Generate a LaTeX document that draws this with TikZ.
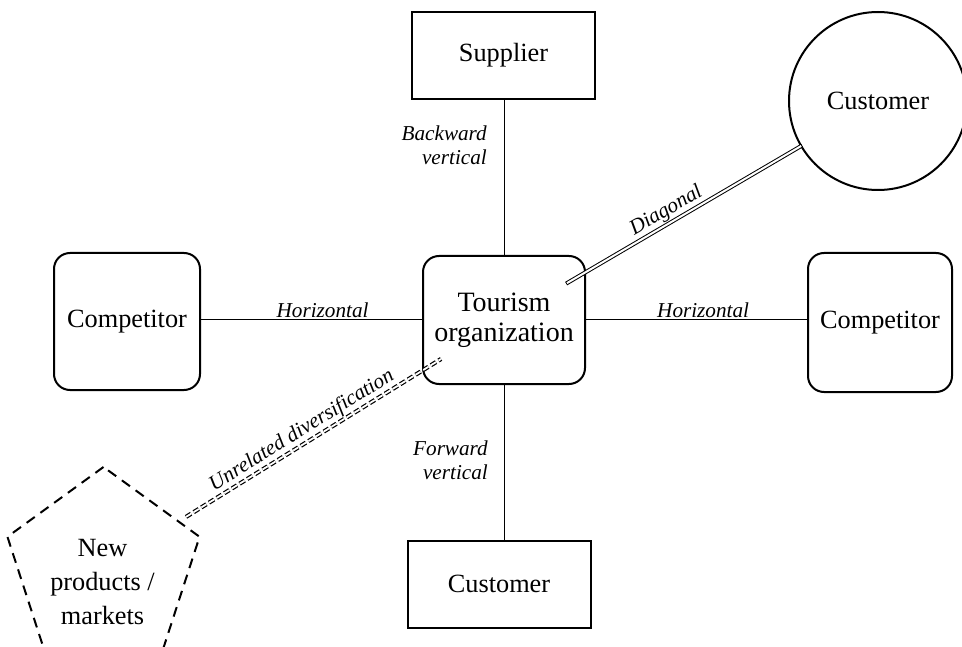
\documentclass[tikz,border=0pt]{standalone}
\usepackage{fontspec}
\setmainfont{Liberation Serif}
\usetikzlibrary{shapes.geometric,calc}

\tikzset{
  boxtext/.style={font=\fontsize{26.3}{32}\selectfont, align=center, inner sep=0pt},
  sqbox/.style={boxtext, draw, line width=2pt, minimum width=183pt, minimum height=87pt},
  rbox/.style={boxtext, draw, line width=2pt, rounded corners=16pt},
  link/.style={line width=1pt},
  lbl/.style={font=\fontsize{21.2}{24}\selectfont\itshape, inner sep=2pt},
  dlink/.style={line width=1pt, double, double distance=2pt, line cap=rect},
  dashlink/.style={line width=1.2pt, double, double distance=1.8pt, dash pattern=on 6pt off 3pt},
}

\begin{document}
\begin{tikzpicture}[x=1pt, y=-1pt]
  \useasboundingbox (0,0) rectangle (962,647);

  % nodes
  \node[sqbox] (supp) at (503.5,55.5) {Supplier};
  \node[rbox, minimum width=162pt, minimum height=128pt,
        font=\fontsize{28}{30}\selectfont] (org) at (504,320) {Tourism\\organization};
  \node[rbox, minimum width=146pt, minimum height=137pt] (compL) at (127,321.5) {Competitor};
  \node[rbox, minimum width=144pt, minimum height=139pt] (compR) at (880,322.5) {Competitor};
  \node[sqbox] (custB) at (499,584) {Customer};
  \node[boxtext, draw, line width=2pt, circle, minimum size=178pt] (custC) at (878,101) {Customer};
  \node[boxtext, draw, line width=2pt, dash pattern=on 10pt off 7pt,
        regular polygon, regular polygon sides=5, minimum size=202pt] (newpm) at (103.5,568) {};
  \node[font=\fontsize{26.3}{34}\selectfont, align=center, inner sep=0pt] (newtxt) at (102.5,582) {New\\products /\\markets};

  % straight links
  \draw[link] (supp.south -| org.north) -- (org.north);
  \draw[link] (org.south) -- (org.south |- custB.north);
  \draw[link] (compL.east |- org.west) -- node[lbl, above, pos=0.55] {Horizontal} (org.west);
  \draw[link] (org.east) -- node[lbl, above, pos=0.53] {Horizontal} (compR.west |- org.east);

  \node[lbl, align=right, anchor=east] (bwd) at (489,145) {Backward\\vertical};
  \node[lbl, align=right, anchor=east] (fwd) at (490,460) {Forward\\vertical};

  % diagonal link
  \coordinate (d1) at ($(org.center)!74pt!(custC.center)$);
  \draw[dlink] (d1) -- node[lbl, sloped, above, pos=0.45] {Diagonal} (custC);

  % unrelated diversification link
  \coordinate (u1) at ($(org.center)!74pt!(newpm.center)$);
  \coordinate (u2) at ($(org.center)!374pt!(newpm.center)$);
  \draw[dashlink] (u2) -- node[lbl, sloped, above, pos=0.48] {Unrelated diversification} (u1);
\end{tikzpicture}
\end{document}
